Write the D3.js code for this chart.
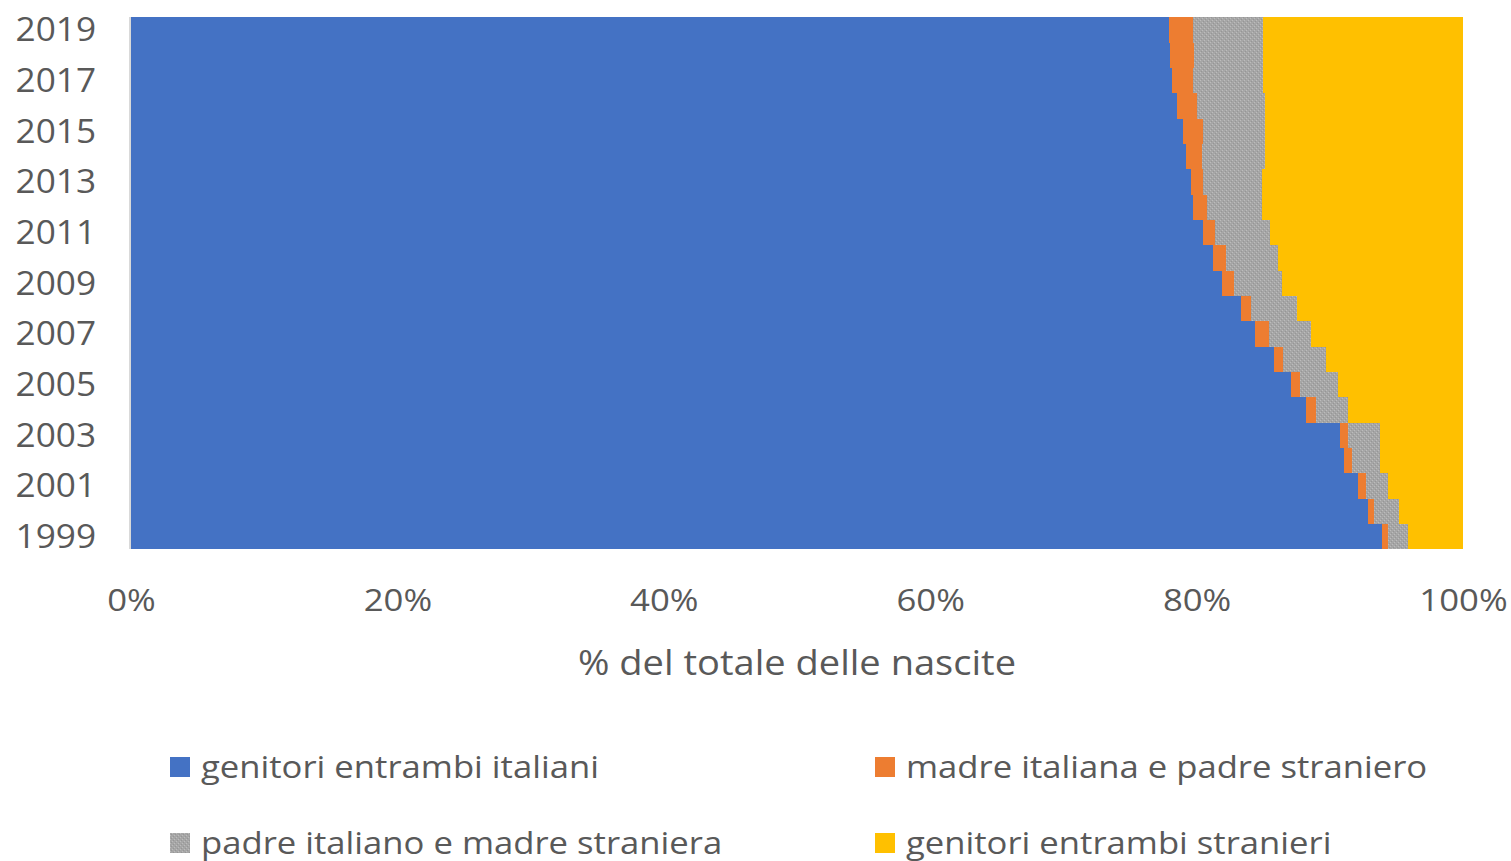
<!DOCTYPE html>
<html><head><meta charset="utf-8">
<script src="https://cdn.jsdelivr.net/npm/d3@7"></script>
<style>
html,body{margin:0;padding:0;background:#fff;}
svg text{font-family:"Open Sans",sans-serif;fill:#595959;}
</style></head>
<body><svg id="c" width="1511" height="861"></svg>
<script>
const years = [1999,2000,2001,2002,2003,2004,2005,2006,2007,2008,2009,2010,2011,2012,2013,2014,2015,2016,2017,2018,2019];
const bothItalian   = [93.9,92.9,92.1,91.1,90.8,88.2,87.1,85.8,84.4,83.3,81.9,81.2,80.5,79.7,79.6,79.2,79.0,78.5,78.2,78.0,77.9];
const motherItalian = [0.5,0.4,0.6,0.6,0.6,0.8,0.7,0.7,1.0,0.8,0.9,1.0,0.9,1.1,0.9,1.2,1.5,1.5,1.6,1.8,1.8];
const fatherItalian = [1.5,1.9,1.7,2.1,2.4,2.4,2.8,3.2,3.2,3.4,3.6,3.9,4.1,4.1,4.4,4.7,4.6,5.1,5.3,5.2,5.3];
const bothForeign   = [4.1,4.8,5.6,6.2,6.2,8.6,9.4,10.3,11.4,12.5,13.6,13.9,14.5,15.1,15.1,14.9,14.9,14.9,15.0,15.0,15.0];
const seriesNames = ["genitori entrambi italiani","madre italiana e padre straniero","padre italiano e madre straniera","genitori entrambi stranieri"];
const yearLabels = [1999,2001,2003,2005,2007,2009,2011,2013,2015,2017,2019];
const xTicks = [0,0.2,0.4,0.6,0.8,1];
const xTitle = "% del totale delle nascite";

const keys = ["a","b","c","d"];
const table = years.map((y,i)=>({year:y,a:bothItalian[i],b:motherItalian[i],c:fatherItalian[i],d:bothForeign[i]}));

const svg = d3.select("#c");
const defs = svg.append("defs");
const pat = defs.append("pattern").attr("id","gp").attr("patternUnits","userSpaceOnUse").attr("width",4).attr("height",4);
pat.append("rect").attr("width",4).attr("height",4).attr("fill","#a6a6a6");
pat.append("rect").attr("x",0).attr("y",0).attr("width",1).attr("height",1).attr("fill","#bcbcbc");
pat.append("rect").attr("x",2).attr("y",2).attr("width",1).attr("height",1).attr("fill","#bcbcbc");
pat.append("rect").attr("x",1).attr("y",3).attr("width",1).attr("height",1).attr("fill","#969696");
pat.append("rect").attr("x",3).attr("y",1).attr("width",1).attr("height",1).attr("fill","#969696");

const colors = {a:"#4472c4",b:"#ed7d31",c:"url(#gp)",d:"#ffc000"};

const x = d3.scaleLinear().domain([0,1]).range([131,1463]);
const y = d3.scaleBand().domain(years.slice().reverse()).range([17,549]).padding(0);

const stack = d3.stack().keys(keys).offset(d3.stackOffsetExpand);
const layers = stack(table);

svg.append("g").selectAll("g").data(layers).join("g")
  .attr("fill",d=>colors[d.key])
  .selectAll("rect").data(d=>d).join("rect")
  .attr("x",d=>x(d[0])).attr("width",d=>x(d[1])-x(d[0]))
  .attr("y",d=>y(d.data.year)).attr("height",y.bandwidth()+0.3)
  .attr("shape-rendering","crispEdges");

// y axis line
svg.append("line").attr("x1",130).attr("x2",130).attr("y1",17).attr("y2",549)
  .attr("stroke","#d9d9d9").attr("stroke-width",2);

// y labels
svg.append("g").selectAll("g").data(yearLabels).join("g")
  .attr("transform",d=>`translate(96,${y(d)+y.bandwidth()/2})`)
  .append("text").attr("transform","scale(1.1,1)").attr("dy","0.36em")
  .attr("text-anchor","end").style("font-size","32px").text(d=>d);

// x axis
const xAxis = d3.axisBottom(x).tickValues(xTicks).tickFormat(d3.format(".0%")).tickSize(0).tickPadding(0);
const gx = svg.append("g").attr("transform","translate(0,600)").call(xAxis);
gx.select(".domain").remove();
gx.selectAll("text").style("font-size","31px").attr("dy","0.36em").attr("y",0).attr("transform","scale(1.12,1)");

svg.append("g").attr("transform","translate(797,663)")
  .append("text").attr("transform","scale(1.12,1)").attr("dy","0.36em").attr("text-anchor","middle")
  .style("font-size","34px").text(xTitle);

// legend
const legPos = [[170,767],[875,767],[170,843],[875,843]];
const leg = svg.append("g").selectAll("g").data(keys).join("g")
  .attr("transform",(d,i)=>`translate(${legPos[i][0]},${legPos[i][1]})`);
leg.append("rect").attr("x",0).attr("y",-10).attr("width",20).attr("height",20).attr("fill",d=>colors[d]);
leg.append("g").attr("transform","translate(31,0)")
  .append("text").attr("transform","scale(1.1,1)").attr("dy","0.36em").style("font-size","31.5px").text((d,i)=>seriesNames[i]);
</script></body></html>
